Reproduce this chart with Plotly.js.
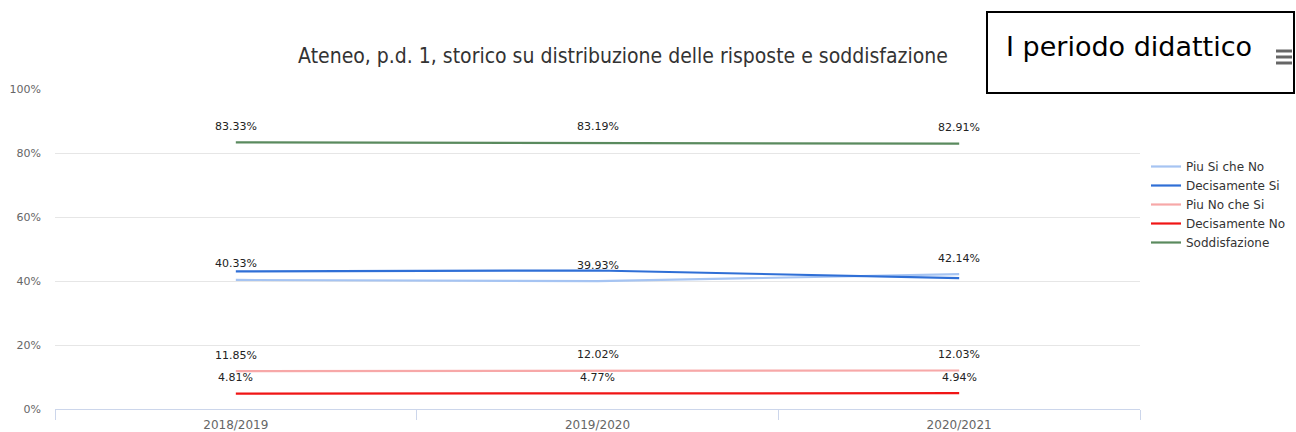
<!DOCTYPE html>
<html>
<head>
<meta charset="utf-8">
<script src="https://cdn.plot.ly/plotly-3.0.1.min.js"></script>
<style>
html,body{margin:0;padding:0;background:#fff;}
#chart{width:1296px;height:432px;}
</style>
</head>
<body>
<div id="chart"></div>
<script>
var years = ["2018/2019", "2019/2020", "2020/2021"];
var piuSiCheNo = [40.33, 39.93, 42.14];
var decisamenteSi = [43.01, 43.28, 40.89];
var piuNoCheSi = [11.85, 12.02, 12.03];
var decisamenteNo = [4.81, 4.77, 4.94];
var soddisfazione = [83.33, 83.19, 82.91];
var seriesNames = ["Piu Si che No", "Decisamente Si", "Piu No che Si", "Decisamente No", "Soddisfazione"];
var yTicks = [0, 20, 40, 60, 80, 100];

var seriesData = [piuSiCheNo, decisamenteSi, piuNoCheSi, decisamenteNo, soddisfazione];
var colors = ["#a6c4f2", "#2f6fd6", "#f7a8a8", "#f01515", "#5a8a5e"];
var showLabels = [true, false, true, true, true];

var L = 55, R = 1140, T = 89, B = 409;
function px(x){ return (x - L) / (R - L); }
function py(y){ return (B - y) / (B - T); }

var traces = seriesData.map(function(vals, i){
  return {
    type: "scatter", mode: "lines", x: years, y: vals, name: seriesNames[i],
    line: {color: colors[i], width: 2.2}, hoverinfo: "skip"
  };
});

var annotations = [];
seriesData.forEach(function(vals, i){
  if (!showLabels[i]) return;
  vals.forEach(function(v, j){
    annotations.push({
      x: years[j], y: v, xref: "x", yref: "y", text: v.toFixed(2) + "%",
      showarrow: false, yshift: 16,
      font: {family: "DejaVu Sans, sans-serif", size: 11, color: "#222"}
    });
  });
});

annotations.push({
  xref: "paper", yref: "paper", x: px(1004), y: py(46), xanchor: "left", yanchor: "middle",
  text: "I periodo didattico", showarrow: false,
  font: {family: "DejaVu Sans, sans-serif", size: 27, color: "#000"}
});

var shapes = [
  {type: "rect", xref: "paper", yref: "paper", x0: px(987), x1: px(1294), y0: py(93), y1: py(12),
   line: {color: "#000", width: 2}, fillcolor: "rgba(0,0,0,0)", layer: "above"}
];
[51, 57, 63].forEach(function(yy){
  shapes.push({type: "line", xref: "paper", yref: "paper", x0: px(1276), x1: px(1292), y0: py(yy), y1: py(yy),
    line: {color: "#666", width: 3}});
});

var layout = {
  width: 1296, height: 432,
  margin: {l: L, r: 1296 - R, t: T, b: 432 - B, pad: 0, autoexpand: false},
  paper_bgcolor: "#fff", plot_bgcolor: "#fff",
  font: {family: "DejaVu Sans, sans-serif", color: "#333"},
  title: {
    text: "Ateneo, p.d. 1, storico su distribuzione delle risposte e soddisfazione",
    x: 623 / 1296, xanchor: "center", y: 1 - 56 / 432, yanchor: "middle",
    font: {family: "DejaVu Sans Condensed, DejaVu Sans, sans-serif", size: 21, color: "#333"}
  },
  xaxis: {
    type: "category", range: [-0.5, 2.5], tickson: "boundaries",
    ticks: "outside", ticklen: 10, tickcolor: "#ccd6eb", tickwidth: 1,
    showline: true, linecolor: "#ccd6eb", linewidth: 1,
    showgrid: false, zeroline: false, fixedrange: true,
    ticklabelstandoff: 5,
    tickfont: {family: "DejaVu Sans, sans-serif", size: 12, color: "#666"}
  },
  yaxis: {
    range: [0, 100], tickvals: yTicks, ticktext: yTicks.map(function(t){return t + "%";}),
    showgrid: true, gridcolor: "#e6e6e6", gridwidth: 1, zeroline: false, showline: false,
    ticks: "", ticklabelstandoff: 13, fixedrange: true,
    tickfont: {family: "DejaVu Sans, sans-serif", size: 11, color: "#666"}
  },
  showlegend: true,
  legend: {
    x: px(1146), xanchor: "left", y: py(152), yanchor: "top",
    font: {family: "DejaVu Sans, sans-serif", size: 12, color: "#333"},
    bgcolor: "rgba(0,0,0,0)", tracegroupgap: 0
  },
  annotations: annotations,
  shapes: shapes
};

Plotly.newPlot("chart", traces, layout, {displayModeBar: false, staticPlot: true});
</script>
</body>
</html>
